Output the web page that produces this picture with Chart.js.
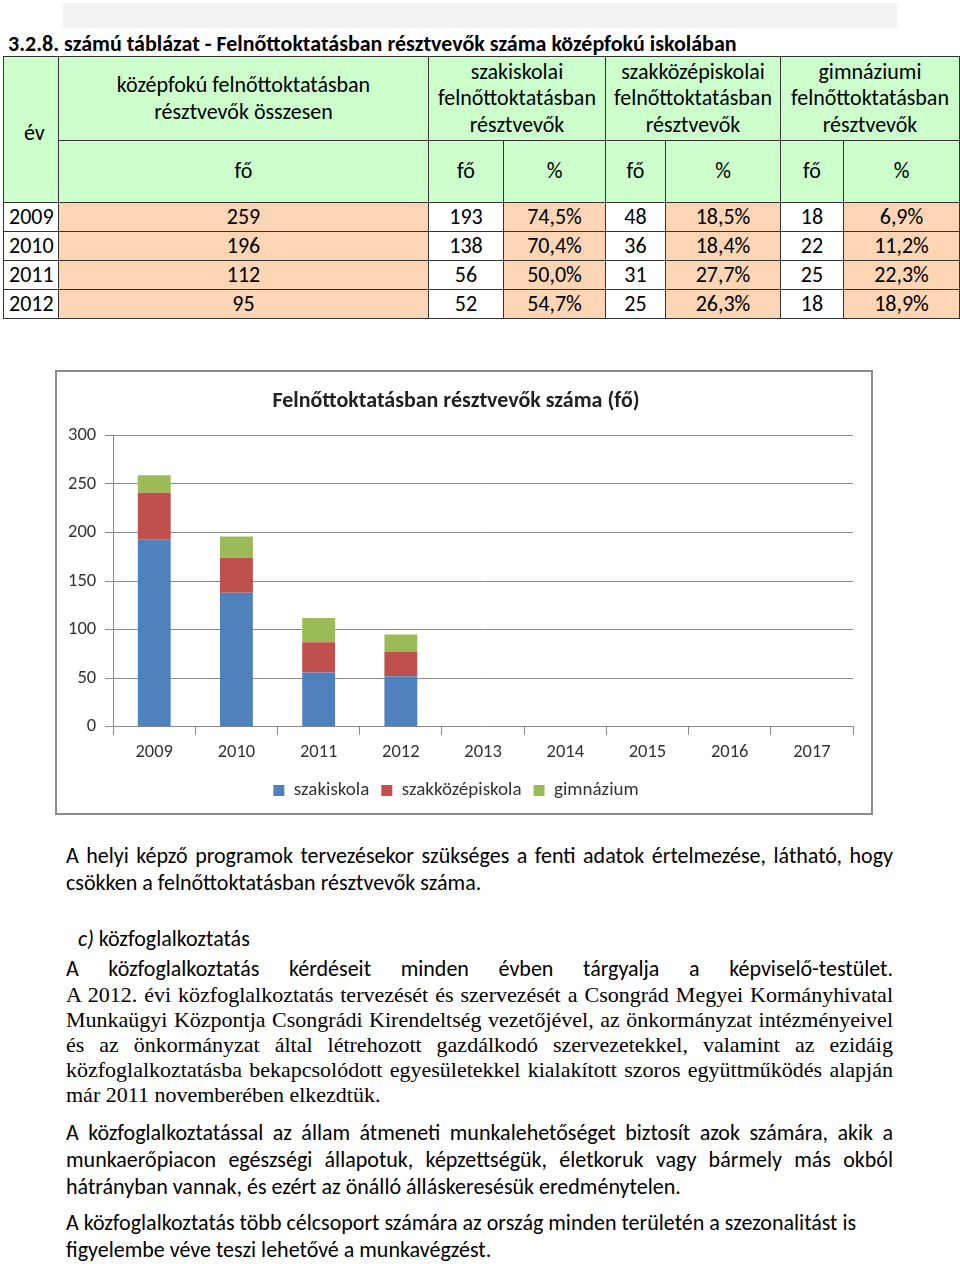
<!DOCTYPE html>
<html>
<head>
<meta charset="utf-8">
<script src="https://cdn.jsdelivr.net/npm/chart.js@4"></script>
<style>
  body { margin: 0; width: 960px; height: 1264px; background: #fff; position: relative; font-family: Carlito, Lato, sans-serif; color: #000; overflow: hidden; }
  .topbar { position: absolute; left: 63px; top: 3px; width: 834px; height: 25px; background: #f2f2f2; }
  .caption { position: absolute; left: 8px; top: 30px; font-size: 22px; font-weight: bold; white-space: nowrap; }
  table.t { position: absolute; left: 3px; top: 56px; border-collapse: collapse; table-layout: fixed; font-size: 22px; }
  table.t td { border: 1px solid #333; padding: 0; text-align: center; line-height: 26.5px; }
  table.t tr.h td { background: #ccffcc; }
  table.t tr.d td { height: 28px; }
  table.t td.o { background: #fcd5b4; }
  table.t td.y { text-align: left; padding-left: 5px; }
  #chartBox { position: absolute; left: 55px; top: 370px; width: 814px; height: 441px; border: 2px solid #8c8c8c; background: #fff; }
  .p { position: absolute; left: 66px; width: 827px; font-size: 22px; line-height: 27px; white-space: nowrap; }
  .j { text-align: justify; text-align-last: justify; white-space: normal; }
  .serif { font-family: "Liberation Serif", "Times New Roman", serif; font-size: 22px; line-height: 25px; }
</style>
</head>
<body>
<div class="topbar"></div>
<div class="caption">3.2.8. számú táblázat - Felnőttoktatásban résztvevők száma középfokú iskolában</div>
<table class="t" id="tbl">
  <colgroup>
    <col style="width:55px"><col style="width:370px"><col style="width:75px"><col style="width:102px">
    <col style="width:60px"><col style="width:115px"><col style="width:63px"><col style="width:116px">
  </colgroup>
  <tr class="h" style="height:84px">
    <td rowspan="2" class="y" style="text-align:left;padding-left:20px;padding-top:8px">év</td>
    <td>középfokú felnőttoktatásban<br>résztvevők összesen</td>
    <td colspan="2">szakiskolai<br>felnőttoktatásban<br>résztvevők</td>
    <td colspan="2">szakközépiskolai<br>felnőttoktatásban<br>résztvevők</td>
    <td colspan="2">gimnáziumi<br>felnőttoktatásban<br>résztvevők</td>
  </tr>
  <tr class="h" style="height:62px">
    <td>fő</td><td>fő</td><td>%</td><td>fő</td><td>%</td><td>fő</td><td>%</td>
  </tr>
</table>
<div id="chartBox"><canvas id="c"></canvas></div>

<div class="p j" style="top:842px">A helyi képző programok tervezésekor szükséges a fenti adatok értelmezése, látható, hogy</div>
<div class="p" style="top:869px">csökken a felnőttoktatásban résztvevők száma.</div>
<div class="p" style="top:925px; left:78px"><i>c)</i> közfoglalkoztatás</div>
<div class="p j" style="top:955px">A közfoglalkoztatás kérdéseit minden évben tárgyalja a képviselő-testület.</div>
<div class="p j serif" style="top:982px">A 2012. évi közfoglalkoztatás tervezését és szervezését a Csongrád Megyei Kormányhivatal</div>
<div class="p j serif" style="top:1007px">Munkaügyi Központja Csongrádi Kirendeltség vezetőjével, az önkormányzat intézményeivel</div>
<div class="p j serif" style="top:1032px">és az önkormányzat által létrehozott gazdálkodó szervezetekkel, valamint az ezidáig</div>
<div class="p j serif" style="top:1057px">közfoglalkoztatásba bekapcsolódott egyesületekkel kialakított szoros együttműködés alapján</div>
<div class="p serif" style="top:1082px">már 2011 novemberében elkezdtük.</div>
<div class="p j" style="top:1119px">A közfoglalkoztatással az állam átmeneti munkalehetőséget biztosít azok számára, akik a</div>
<div class="p j" style="top:1146px">munkaerőpiacon egészségi állapotuk, képzettségük, életkoruk vagy bármely más okból</div>
<div class="p" style="top:1173px">hátrányban vannak, és ezért az önálló álláskeresésük eredménytelen.</div>
<div class="p" style="top:1209px">A közfoglalkoztatás több célcsoport számára az ország minden területén a szezonalitást is</div>
<div class="p" style="top:1236px">figyelembe véve teszi lehetővé a munkavégzést.</div>

<script>
// táblázat adatai
const tableYears = ['2009', '2010', '2011', '2012'];
const totalCount = [259, 196, 112, 95];
const szakiskolaPct = ['74,5%', '70,4%', '50,0%', '54,7%'];
const szakkozepPct = ['18,5%', '18,4%', '27,7%', '26,3%'];
const gimnaziumPct = ['6,9%', '11,2%', '22,3%', '18,9%'];

// diagram adatai
const years = ['2009', '2010', '2011', '2012', '2013', '2014', '2015', '2016', '2017'];
const szakiskola = [193, 138, 56, 52];
const szakkozep = [48, 36, 31, 25];
const gimnazium = [18, 22, 25, 18];
const yTicks = [0, 50, 100, 150, 200, 250, 300];

const tbl = document.getElementById('tbl');
tableYears.forEach((yr, i) => {
    const tr = document.createElement('tr');
    tr.className = 'd';
    tr.innerHTML =
        `<td class="y">${yr}</td><td class="o">${totalCount[i]}</td>` +
        `<td>${szakiskola[i]}</td><td class="o">${szakiskolaPct[i]}</td>` +
        `<td>${szakkozep[i]}</td><td class="o">${szakkozepPct[i]}</td>` +
        `<td>${gimnazium[i]}</td><td class="o">${gimnaziumPct[i]}</td>`;
    tbl.appendChild(tr);
});

const FONT = 'Carlito, Lato, sans-serif';
const ctx = document.getElementById('c').getContext('2d');
new Chart(ctx, {
    type: 'bar',
    data: {
        labels: years,
        datasets: [
            { label: 'szakiskola', data: szakiskola, backgroundColor: '#4f81bd' },
            { label: 'szakközépiskola', data: szakkozep, backgroundColor: '#c0504d' },
            { label: 'gimnázium', data: gimnazium, backgroundColor: '#9bbb59' }
        ].map(ds => ({ ...ds, categoryPercentage: 1, barPercentage: 0.4 }))
    },
    options: {
        responsive: true,
        maintainAspectRatio: false,
        animation: false,
        layout: { padding: { left: 2, right: 18, top: 0, bottom: 3 } },
        plugins: {
            title: {
                display: true,
                text: 'Felnőttoktatásban résztvevők száma (fő)',
                color: '#222',
                font: { family: FONT, size: 22, weight: 'bold' },
                padding: { top: 16, bottom: 21 }
            },
            legend: {
                position: 'bottom',
                labels: {
                    boxWidth: 11, boxHeight: 11, padding: 12,
                    color: '#333',
                    font: { family: FONT, size: 19 }
                }
            },
            tooltip: { enabled: false }
        },
        scales: {
            x: {
                stacked: true,
                grid: { drawOnChartArea: false, drawTicks: true, tickLength: 8, color: '#888', offset: true },
                border: { color: '#888' },
                ticks: { color: '#333', font: { family: FONT, size: 18.5 }, padding: 6 }
            },
            y: {
                stacked: true,
                min: 0,
                max: 300,
                afterBuildTicks: axis => { axis.ticks = yTicks.map(v => ({ value: v })); },
                grid: { color: '#8a8a8a', tickLength: 8 },
                border: { color: '#8a8a8a' },
                ticks: { color: '#333', font: { family: FONT, size: 18.5 }, padding: 9 }
            }
        }
    }
});
</script>
</body>
</html>
